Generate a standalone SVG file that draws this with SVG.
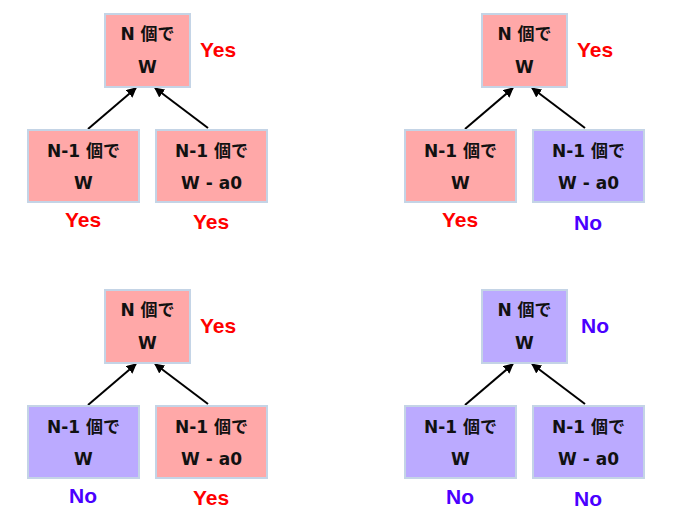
<svg xmlns="http://www.w3.org/2000/svg" width="695" height="520" viewBox="0 0 695 520">
<defs>
<style>
.box{stroke:#c4d4e6;stroke-width:2}
.y{fill:#ffa8a8}
.n{fill:#bbaaff}
.t{font-family:"DejaVu Sans","Noto Sans CJK JP",sans-serif;font-weight:bold;font-size:17px;fill:#111;text-anchor:middle}
.ly{font-family:"Liberation Sans",sans-serif;font-weight:bold;font-size:21px;fill:#ff0000;text-anchor:middle}
.ln{font-family:"Liberation Sans",sans-serif;font-weight:bold;font-size:21px;fill:#4a00ff;text-anchor:middle}
.c{stroke:#000;stroke-width:2;fill:none;marker-end:url(#ah)}
</style>
<marker id="ah" viewBox="0 0 10 10" refX="9" refY="5" markerWidth="5" markerHeight="5" orient="auto" markerUnits="strokeWidth">
<path d="M0,0 L10,5 L0,10 z" fill="#000"/>
</marker>
</defs>
<rect width="695" height="520" fill="#fff"/>

<g id="connectors">
<path class="c" d="M88,129 L136,88"/>
<path class="c" d="M208,128 L155,88"/>
<path class="c" d="M465,129 L513,88"/>
<path class="c" d="M585,128 L532,88"/>
<path class="c" d="M88,405 L136,364"/>
<path class="c" d="M208,404 L155,364"/>
<path class="c" d="M465,405 L513,364"/>
<path class="c" d="M585,404 L532,364"/>
</g>

<!-- Quadrant 1 -->
<g id="q1-top">
<rect class="box y" x="105" y="14" width="85" height="73"/>
<text class="t" x="147.5" y="40">N 個で</text>
<text class="t" x="147.5" y="73">W</text>
<text class="ly" x="218" y="57">Yes</text>
</g>
<g id="q1-left">
<rect class="box y" x="28" y="130" width="111" height="72"/>
<text class="t" x="83.5" y="157">N-1 個で</text>
<text class="t" x="83.5" y="189">W</text>
<text class="ly" x="83" y="227">Yes</text>
</g>
<g id="q1-right">
<rect class="box y" x="156" y="130" width="111" height="72"/>
<text class="t" x="211.5" y="157">N-1 個で</text>
<text class="t" x="211.5" y="189">W - a0</text>
<text class="ly" x="211" y="229">Yes</text>
</g>

<!-- Quadrant 2 -->
<g id="q2-top">
<rect class="box y" x="482" y="14" width="85" height="73"/>
<text class="t" x="524.5" y="40">N 個で</text>
<text class="t" x="524.5" y="73">W</text>
<text class="ly" x="595" y="57">Yes</text>
</g>
<g id="q2-left">
<rect class="box y" x="405" y="130" width="111" height="72"/>
<text class="t" x="460.5" y="157">N-1 個で</text>
<text class="t" x="460.5" y="189">W</text>
<text class="ly" x="460" y="227">Yes</text>
</g>
<g id="q2-right">
<rect class="box n" x="533" y="130" width="111" height="72"/>
<text class="t" x="588.5" y="157">N-1 個で</text>
<text class="t" x="588.5" y="189">W - a0</text>
<text class="ln" x="588" y="230">No</text>
</g>

<!-- Quadrant 3 -->
<g id="q3-top">
<rect class="box y" x="105" y="290" width="85" height="73"/>
<text class="t" x="147.5" y="316">N 個で</text>
<text class="t" x="147.5" y="349">W</text>
<text class="ly" x="218" y="333">Yes</text>
</g>
<g id="q3-left">
<rect class="box n" x="28" y="406" width="111" height="72"/>
<text class="t" x="83.5" y="433">N-1 個で</text>
<text class="t" x="83.5" y="465">W</text>
<text class="ln" x="83" y="503">No</text>
</g>
<g id="q3-right">
<rect class="box y" x="156" y="406" width="111" height="72"/>
<text class="t" x="211.5" y="433">N-1 個で</text>
<text class="t" x="211.5" y="465">W - a0</text>
<text class="ly" x="211" y="505">Yes</text>
</g>

<!-- Quadrant 4 -->
<g id="q4-top">
<rect class="box n" x="482" y="290" width="85" height="73"/>
<text class="t" x="524.5" y="316">N 個で</text>
<text class="t" x="524.5" y="349">W</text>
<text class="ln" x="595" y="333">No</text>
</g>
<g id="q4-left">
<rect class="box n" x="405" y="406" width="111" height="72"/>
<text class="t" x="460.5" y="433">N-1 個で</text>
<text class="t" x="460.5" y="465">W</text>
<text class="ln" x="460" y="504">No</text>
</g>
<g id="q4-right">
<rect class="box n" x="533" y="406" width="111" height="72"/>
<text class="t" x="588.5" y="433">N-1 個で</text>
<text class="t" x="588.5" y="465">W - a0</text>
<text class="ln" x="588" y="506">No</text>
</g>
</svg>
